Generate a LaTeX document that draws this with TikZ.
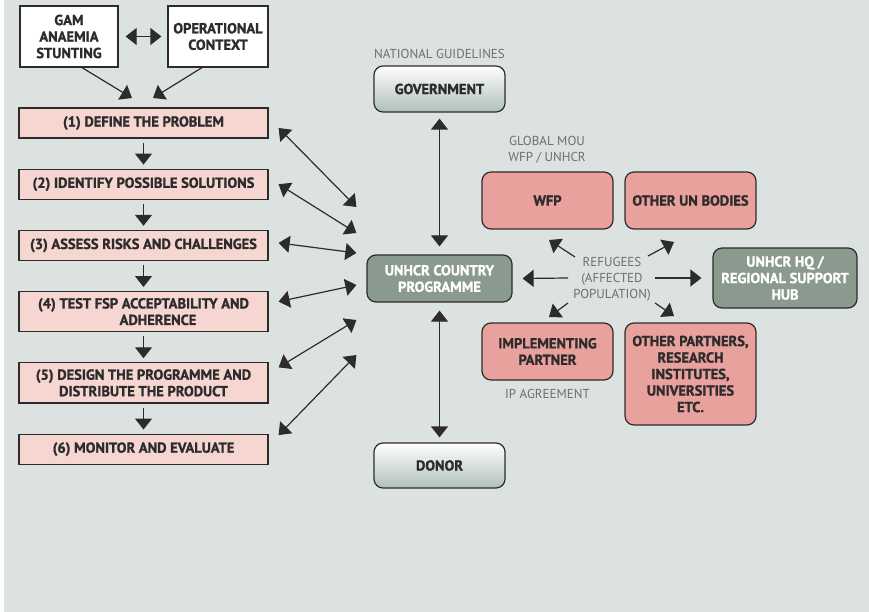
\documentclass[tikz,border=0pt]{standalone}
\usepackage{fontspec}
\setmainfont{PT Sans}[BoldFeatures={FakeBold=1.2}]
\usetikzlibrary{positioning,arrows.meta}

\definecolor{bgcol}{HTML}{DCE2E0}
\definecolor{edge}{HTML}{2E2B2C}
\definecolor{steppink}{HTML}{F5D6D1}
\definecolor{partner}{HTML}{E8A19D}
\definecolor{unhcrgray}{HTML}{8A9A8E}
\definecolor{govgray}{HTML}{AFC0B8}
\definecolor{notegray}{HTML}{6E6E6E}

\tikzset{
  box/.style={draw=edge, line width=1.2pt, align=center, text=edge,
    font=\bfseries\fontsize{14.5}{16.5}\selectfont, inner ysep=6.5pt, inner xsep=3pt},
  stepbox/.style={box, fill=steppink, minimum width=249pt, minimum height=30pt},
  topbox/.style={box, fill=white, minimum height=61pt},
  pbox/.style={box, fill=partner, rounded corners=9pt, minimum width=131pt, minimum height=57pt},
  gbox/.style={box, top color=white, bottom color=govgray, rounded corners=9pt,
    minimum width=131pt, minimum height=46pt},
  ubox/.style={box, fill=unhcrgray, text=white, rounded corners=9pt},
  note/.style={text=notegray, align=center, font=\fontsize{13}{16}\selectfont, inner sep=2pt},
  arr/.style={-{Triangle[length=11pt,width=17pt]}, line width=1.2pt, draw=edge},
  dbl/.style={{Triangle[length=11pt,width=17pt]}-{Triangle[length=11pt,width=17pt]}, line width=1.2pt, draw=edge},
}

\begin{document}
\begin{tikzpicture}[x=1pt,y=-1pt]
  \useasboundingbox (0,0) rectangle (869,612);
  \fill[white] (0,0) rectangle (869,612);
  \fill[bgcol] (4,0) rectangle (869,612);

  % left column
  \node[topbox, minimum width=98pt] (gam) at (69,36.5) {GAM\\ANAEMIA\\STUNTING};
  \node[topbox, minimum width=100pt] (ctx) at (218,36.5) {OPERATIONAL\\CONTEXT};
  \node[stepbox] (b1) at (143.5,123) {(1) DEFINE THE PROBLEM};
  \node[stepbox, below=30pt of b1] (b2) {(2) IDENTIFY POSSIBLE SOLUTIONS};
  \node[stepbox, below=30pt of b2] (b3) {(3) ASSESS RISKS AND CHALLENGES};
  \node[stepbox, below=30pt of b3] (b4) {(4) TEST FSP ACCEPTABILITY AND\\\hspace*{2em}ADHERENCE};
  \node[stepbox, below=30pt of b4] (b5) {(5) DESIGN THE PROGRAMME AND\\DISTRIBUTE THE PRODUCT};
  \node[stepbox, below=30pt of b5] (b6) {(6) MONITOR AND EVALUATE};

  \coordinate (t1) at (132,98);
  \coordinate (t2) at (153,98);
  \draw[dbl, shorten <=7pt, shorten >=6pt] (gam) -- (ctx);
  \draw[arr] ([xshift=13pt]gam.south) -- (t1);
  \draw[arr] ([xshift=-16pt]ctx.south) -- (t2);
  \foreach \a/\b in {b1/b2, b2/b3, b3/b4, b4/b5, b5/b6}
    \draw[arr, shorten <=4pt, shorten >=4pt] (\a) -- (\b);

  % centre column
  \node[gbox] (gov) at (439.5,89) {GOVERNMENT};
  \node[note, above=5pt of gov] {NATIONAL GUIDELINES};
  \node[ubox, minimum width=145pt, minimum height=47pt] (unhcr) at (439.5,278.5) {UNHCR COUNTRY\\PROGRAMME};
  \node[gbox, minimum height=45pt] (donor) at (439.5,465.5) {DONOR};
  \draw[dbl, shorten <=6pt, shorten >=8pt] (gov) -- (unhcr);
  \draw[dbl, shorten <=8pt, shorten >=5pt] (unhcr) -- (donor);

  \foreach \i/\a/\b in {1/-5/71.5, 2/0/45.5, 3/2.5/25.5, 4/10/-6.5, 5/15.5/-41.5, 6/14/-76.5}
    \draw[dbl] ([xshift=10pt,yshift=\a pt]b\i.east) -- ([xshift=-10pt,yshift=\b pt]unhcr.west);

  % right side
  \node[pbox] (wfp) at (547.5,200.5) {WFP};
  \node[note] at (547,149.5) {GLOBAL MOU\\WFP / UNHCR};
  \node[pbox] (unb) at (690.5,200.5) {OTHER UN BODIES};
  \node[ubox, minimum width=144pt, minimum height=60pt] (hq) at (785,278) {UNHCR HQ /\\REGIONAL SUPPORT\\HUB};
  \node[pbox] (ip) at (547.5,351.5) {IMPLEMENTING\\PARTNER};
  \node[note, below=6pt of ip] {IP AGREEMENT};
  \node[pbox, minimum height=102pt] (oth) at (690.5,374) {OTHER PARTNERS,\\RESEARCH\\INSTITUTES,\\UNIVERSITIES\\ETC.};
  \node[note] (ref) at (612,279) {REFUGEES\\(AFFECTED\\POPULATION)};

  \coordinate (r1) at (549,240);
  \coordinate (r2) at (674,242);
  \coordinate (r3) at (549,317);
  \coordinate (r4) at (674,316);
  \draw[arr] (568,278) -- ([xshift=10pt]unhcr.east);
  \draw[arr] (655,278) -- ([xshift=-11pt]hq.west);
  \draw[arr] (575,257) -- (r1);
  \draw[arr] (648,256) -- (r2);
  \draw[arr] (568,303) -- (r3);
  \draw[arr] (655,303) -- (r4);
\end{tikzpicture}
\end{document}
